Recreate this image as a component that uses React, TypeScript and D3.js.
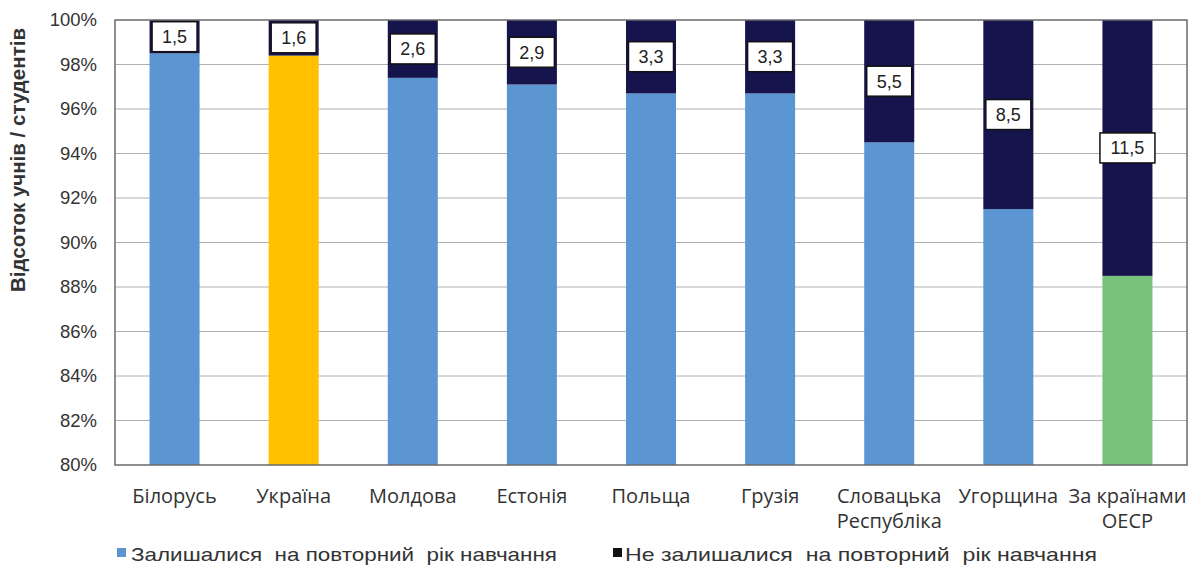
import React from "react";
import * as d3 from "d3";

const categories = ["Білорусь", "Україна", "Молдова", "Естонія", "Польща", "Грузія", "Словацька Республіка", "Угорщина", "За країнами ОЕСР"];
const categoryLines = [["Білорусь"], ["Україна"], ["Молдова"], ["Естонія"], ["Польща"], ["Грузія"], ["Словацька", "Республіка"], ["Угорщина"], ["За країнами", "ОЕСР"]];
const repeated = [1.5, 1.6, 2.6, 2.9, 3.3, 3.3, 5.5, 8.5, 11.5];
const notRepeated = repeated.map((v) => 100 - v);
const yTicks = [80, 82, 84, 86, 88, 90, 92, 94, 96, 98, 100];
const legendLabels = ["Залишалися  на повторний  рік навчання", "Не залишалися  на повторний  рік навчання"];

const W = 1197, H = 573;
const M = { left: 115, right: 1187, top: 20, bottom: 465 };
const BLUE = "#5B96D3", YELLOW = "#FFC000", GREEN = "#76C17B", NAVY = "#16144C";
const ARIAL = "Liberation Sans, Arial, sans-serif";

export default function App() {
  const x = d3.scaleBand<string>().domain(categories).range([M.left, M.right]).paddingInner(0.58).paddingOuter(0.29);
  const y = d3.scaleLinear().domain([80, 100]).range([M.bottom, M.top]);
  const barColor = (i: number) => (i === 1 ? YELLOW : i === categories.length - 1 ? GREEN : BLUE);
  const fmt = (v: number) => v.toFixed(1).replace(".", ",");

  return (
    <svg width={W} height={H} style={{ position: "absolute", left: 0, top: 0, background: "#fff" }}>
      {yTicks.map((t) => (
        <g key={t}>
          {t > 80 && t < 100 && <line x1={M.left} x2={M.right} y1={y(t)} y2={y(t)} stroke="#b0b0b0" strokeWidth={1} />}
          <text x={97} y={y(t)} dy="0.35em" textAnchor="end" fontFamily={ARIAL} fontSize={18.5} fill="#333">{t}%</text>
        </g>
      ))}
      {categories.map((c, i) => {
        const bx = x(c)!;
        const bw = x.bandwidth();
        const yTop = y(notRepeated[i]);
        const yMid = (y(100) + yTop) / 2;
        const label = fmt(repeated[i]);
        const lw = label.length * 10 + 15;
        return (
          <g key={c}>
            <rect x={bx} y={yTop} width={bw} height={y(80) - yTop} fill={barColor(i)} />
            <rect x={bx} y={y(100)} width={bw} height={yTop - y(100)} fill={NAVY} />
            <rect x={bx + bw / 2 - lw / 2} y={yMid - 15} width={lw} height={30} fill="#fff" stroke="#111" strokeWidth={1.5} />
            <text x={bx + bw / 2} y={yMid} dy="0.36em" textAnchor="middle" fontFamily={ARIAL} fontSize={18} fill="#222">{label}</text>
            {categoryLines[i].map((ln, k) => (
              <text key={k} x={bx + bw / 2} y={503 + k * 25} textAnchor="middle" fontFamily="Open Sans, sans-serif" fontSize={20} fill="#333">{ln}</text>
            ))}
          </g>
        );
      })}
      <rect x={M.left} y={M.top} width={M.right - M.left} height={M.bottom - M.top} fill="none" stroke="#6a6a6a" strokeWidth={1.5} />
      <text transform={`translate(25,160) rotate(-90)`} textAnchor="middle" fontFamily={ARIAL} fontSize={20.5} fontWeight="bold" fill="#333">Відсоток учнів / студентів</text>
      <g fontFamily={ARIAL} fontSize={19} fill="#333">
        <rect x={117} y={548} width={9} height={9} fill={BLUE} />
        <text x={131} y={561} textLength={426} lengthAdjust="spacingAndGlyphs" style={{ whiteSpace: "pre" }}>{legendLabels[0]}</text>
        <rect x={613} y={548} width={9} height={9} fill="#111" />
        <text x={625} y={561} textLength={472} lengthAdjust="spacingAndGlyphs" style={{ whiteSpace: "pre" }}>{legendLabels[1]}</text>
      </g>
    </svg>
  );
}
